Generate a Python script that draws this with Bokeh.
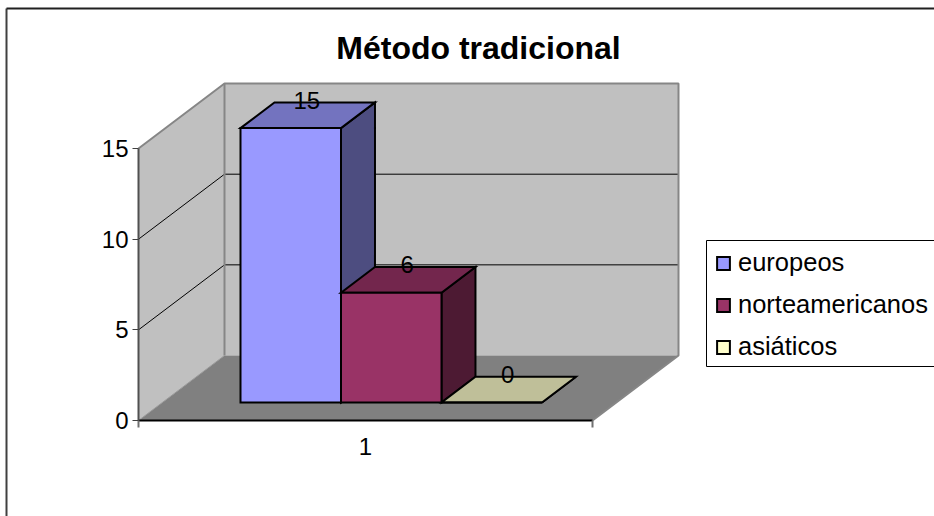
from bokeh.embed import file_html
from bokeh.resources import INLINE
from bokeh.plotting import figure
from bokeh.models import (ColumnDataSource, Range1d, LinearAxis, FixedTicker, Legend, LegendItem)
from bokeh.core.properties import value

# ---- data ----
title_text = "Método tradicional"
categories = ["1"]
series_names = ["europeos", "norteamericanos", "asiáticos"]
series_values = [15, 6, 0]
value_ticks = [0, 5, 10, 15]

# ---- style ----
front_colors = ["#9999FF", "#993366", "#FFFFCC"]
top_colors = ["#7373BF", "#73264D", "#BFBF99"]
side_colors = ["#4D4D80", "#4D1A33", "#808066"]
FONT = "Liberation Sans"
SIZE = "24px"

# ---- page geometry: the canvas covers picture x OX..OX+W, y OY..OY+H ----
OX, OY, W, H = 0, 0, 934, 516
PX0, PW = 138.0, 454.0          # front plane: category axis 0..1
PY0, PVAL = 420.0, 18.13        # front plane: value 0, px per value
DEPTH_X, DEPTH_Y = 86.0, 65.0   # px shift for full depth

x_range = Range1d((OX - PX0) / PW, (OX + W - PX0) / PW)
y_range = Range1d((PY0 - OY - H) / PVAL, (PY0 - OY) / PVAL)

p = figure(width=W, height=H, x_range=x_range, y_range=y_range,
           x_axis_type=None, y_axis_type=None, toolbar_location=None,
           output_backend="svg", min_border=0, outline_line_color=None,
           background_fill_color="white", border_fill_color="white")
p.grid.visible = False


def proj(c, d, v):
    """Project (category position, depth 0..1, value) onto the x / y scales."""
    return c + d * DEPTH_X / PW, v + d * DEPTH_Y / PVAL


def poly(points):
    xy = [proj(*pt) for pt in points]
    return [q[0] for q in xy], [q[1] for q in xy]


def sx(px):
    return (px - PX0) / PW


def sy(py):
    return (PY0 - py) / PVAL


vmax = max(value_ticks)

# outer frame of the chart area
p.line([sx(6), sx(6)], [sy(OY + H), sy(8)], line_color="#404040", line_width=2)
p.line([sx(6), sx(OX + W)], [sy(8), sy(8)], line_color="#202020", line_width=2)

# walls and floor
wall = "#C0C0C0"
edge = "#868686"
xs, ys = poly([(0, 1, 0), (1, 1, 0), (1, 1, vmax), (0, 1, vmax)])
p.patch(xs, ys, fill_color=wall, line_color=None)
xs, ys = poly([(0, 0, 0), (0, 1, 0), (0, 1, vmax), (0, 0, vmax)])
p.patch(xs, ys, fill_color=wall, line_color=None)
xs, ys = poly([(0, 0, 0), (1, 0, 0), (1, 1, 0), (0, 1, 0)])
p.patch(xs, ys, fill_color="#808080", line_color=None)

# gridlines
for t in value_ticks[1:-1]:
    xs, ys = poly([(0, 0, t), (0, 1, t), (1, 1, t)])
    p.line(xs, ys, line_color="black", line_width=1)

# wall edges
xs, ys = poly([(0, 0, vmax), (0, 1, vmax), (1, 1, vmax), (1, 1, 0), (1, 0, 0)])
p.line(xs, ys, line_color=edge, line_width=2)
xs, ys = poly([(0, 1, vmax), (0, 1, 0)])
p.line(xs, ys, line_color=edge, line_width=2)
xs, ys = poly([(0, 0, 0), (0, 1, 0)])
p.line(xs, ys, line_color="#9a9a9a", line_width=1)

# axes
y_axis = LinearAxis(fixed_location=0, ticker=FixedTicker(ticks=value_ticks), bounds=(0, vmax),
                    axis_line_color="#505050", axis_line_width=2,
                    major_tick_line_color="#404040", major_tick_in=0, major_tick_out=6,
                    minor_tick_line_color=None, major_label_standoff=4,
                    major_label_text_font=FONT, major_label_text_font_size=SIZE,
                    major_label_text_color="black")
p.add_layout(y_axis, "left")

x_axis = LinearAxis(fixed_location=0, ticker=FixedTicker(ticks=[0, 1]), bounds=(0, 1),
                    axis_line_color="black", axis_line_width=2,
                    major_tick_line_color="#707070", major_tick_line_width=2,
                    major_tick_in=0, major_tick_out=7,
                    minor_tick_line_color=None, major_label_overrides={0: "", 1: ""})
p.add_layout(x_axis, "below")

x_label = LinearAxis(fixed_location=0, ticker=FixedTicker(ticks=[0.5]),
                     axis_line_color=None, major_tick_line_color=None,
                     minor_tick_line_color=None, major_tick_in=0, major_tick_out=0,
                     major_label_standoff=17, major_label_overrides={0.5: categories[0]},
                     major_label_text_font=FONT, major_label_text_font_size=SIZE,
                     major_label_text_color="black")
p.add_layout(x_label, "below")

# bars
BAR_W = 100.5 / PW
BAR_C0 = 0.1722
D0, D1 = 0.277, 0.672
BAR_SCALE = 1.009
legend_items = []
lab_x, lab_y, lab_t = [], [], []
for i, (name, v) in enumerate(zip(series_names, series_values)):
    c0, c1 = BAR_C0 + i * BAR_W, BAR_C0 + (i + 1) * BAR_W
    h = v * BAR_SCALE
    xs, ys = poly([(c1, D0, 0), (c1, D1, 0), (c1, D1, h), (c1, D0, h)])
    p.patch(xs, ys, fill_color=side_colors[i], line_color="black", line_width=2, line_join="miter")
    xs, ys = poly([(c0, D0, h), (c1, D0, h), (c1, D1, h), (c0, D1, h)])
    p.patch(xs, ys, fill_color=top_colors[i], line_color="black", line_width=2, line_join="miter")
    xs, ys = poly([(c0, D0, 0), (c1, D0, 0), (c1, D0, h), (c0, D0, h)])
    front = p.patch(xs, ys, fill_color=front_colors[i], line_color="black", line_width=2, line_join="miter")
    legend_items.append(LegendItem(label=name, renderers=[front]))
    lx, ly = proj((c0 + c1) / 2, (D0 + D1) / 2, h)
    lab_x.append(lx - 1 / PW)
    lab_y.append(ly + 15 / PVAL)
    lab_t.append(str(v))

# data labels
p.text(x="x", y="y", text="t", source=ColumnDataSource(dict(x=lab_x, y=lab_y, t=lab_t)),
       text_font=value(FONT), text_font_size=value(SIZE), text_color="black",
       text_align="center", text_baseline="middle")

# title
p.text(x=[sx(478)], y=[sy(47)], text=[title_text],
       text_font=value(FONT), text_font_size=value("32px"), text_font_style="bold",
       text_color="black", text_align="center", text_baseline="middle")

# legend box (runs off the right edge of the picture, as in the reference)
p.patch([sx(706), sx(944), sx(944), sx(706)], [sy(366), sy(366), sy(240), sy(240)],
        fill_color="white", line_color="black", line_width=1)

# legend
legend = Legend(items=legend_items, location=(715 - OX, OY + H - 361), orientation="vertical",
                background_fill_alpha=0, border_line_color=None,
                padding=0, margin=0, spacing=13,
                glyph_width=16, glyph_height=16, label_height=26, label_standoff=7,
                label_text_font=FONT, label_text_font_size="25.5px", label_text_color="black")
p.add_layout(legend, "center")

open("out.html", "w").write(file_html(p, INLINE))
